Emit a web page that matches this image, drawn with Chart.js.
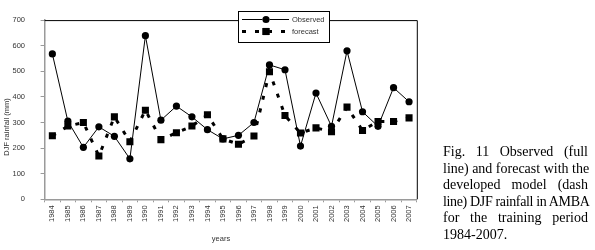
<!DOCTYPE html>
<html>
<head>
<meta charset="utf-8">
<script src="https://cdn.jsdelivr.net/npm/chart.js@4/dist/chart.umd.min.js"></script>
<style>
  html, body { margin: 0; padding: 0; background: #fff; }
  #wrap { position: relative; width: 595px; height: 250px; overflow: hidden; }
  #c { position: absolute; left: 0; top: 0; }
  #caption {
    position: absolute; left: 443px; top: 144px; width: 145px;
    font-family: "Liberation Serif", "Times New Roman", serif;
    font-size: 14px; line-height: 16.5px; color: #000;
  }
  #caption div { text-align: justify; text-align-last: justify; white-space: nowrap; }
  #caption div.last { text-align-last: left; }
</style>
</head>
<body>
<div id="wrap">
  <canvas id="c" width="595" height="250"></canvas>
  <div id="caption">
    <div>Fig. 11 Observed (full</div>
    <div>line) and forecast with the</div>
    <div>developed model (dash</div>
    <div style="letter-spacing:-0.35px">line) DJF rainfall in AMBA</div>
    <div>for the training period</div>
    <div class="last">1984-2007.</div>
  </div>
</div>
<script>
const years = ["1984", "1985", "1986", "1987", "1988", "1989", "1990", "1991", "1992", "1993", "1994", "1995",
  "1996", "1997", "1998", "1999", "2000", "2001", "2002", "2003", "2004", "2005", "2006", "2007"];
const observed = [568, 305, 203, 283, 246, 158, 639, 309, 364, 322, 272, 236,
  250, 300, 525, 506, 208, 415, 285, 580, 342, 285, 436, 381];
const forecast = [248, 286, 300, 169, 322, 225, 348, 233, 260, 286, 330, 236,
  215, 247, 498, 327, 259, 279, 264, 360, 269, 304, 304, 318];
const legendLabels = ["Observed", "forecast"];
const yLabel = "DJF rainfall (mm)";
const xLabel = "years";

const tickFont = { family: "Arial, 'Liberation Sans'", size: 7.5 };
const axisGrey = "#9a9a9a";

// frame, axis titles and the boxed legend inside the plot
const extras = {
  id: "extras",
  afterDraw(chart) {
    const ctx = chart.ctx;
    const a = chart.chartArea;
    ctx.save();
    ctx.strokeStyle = "#000";
    ctx.lineWidth = 1;
    ctx.beginPath();
    ctx.moveTo(a.left, a.top + 0.5);
    ctx.lineTo(a.right + 0.5, a.top + 0.5);
    ctx.lineTo(a.right + 0.5, a.bottom);
    ctx.stroke();

    ctx.fillStyle = "#333";
    ctx.font = "7.5px Arial, 'Liberation Sans'";
    ctx.textAlign = "center";
    ctx.textBaseline = "middle";
    ctx.fillText(xLabel, 221, 239);
    ctx.translate(7, 127);
    ctx.rotate(-Math.PI / 2);
    ctx.fillText(yLabel, 0, 0);
    ctx.restore();

    // legend box
    ctx.save();
    const bx = 238, by = 11, bw = 91, bh = 31;
    ctx.fillStyle = "#fff";
    ctx.fillRect(bx, by, bw, bh);
    ctx.strokeStyle = "#000";
    ctx.lineWidth = 1;
    ctx.strokeRect(bx + 0.5, by + 0.5, bw, bh);

    const ds = chart.data.datasets;
    const rows = [19.5, 31.5];
    ds.forEach((d, i) => {
      const y = rows[i];
      ctx.strokeStyle = "#000";
      ctx.lineWidth = d.borderWidth;
      ctx.setLineDash(d.borderDash || []);
      ctx.beginPath();
      ctx.moveTo(242, y);
      ctx.lineTo(289, y);
      ctx.stroke();
      ctx.setLineDash([]);
      Chart.helpers.drawPoint(ctx, {
        pointStyle: d.pointStyle, radius: d.pointRadius, borderWidth: 0, rotation: 0
      }, 266, y);
      ctx.fillStyle = "#000";
      ctx.fill();
      ctx.fillStyle = "#333";
      ctx.font = "7.5px Arial, 'Liberation Sans'";
      ctx.textAlign = "left";
      ctx.textBaseline = "middle";
      ctx.fillText(legendLabels[i], 292, y);
    });
    ctx.restore();
  }
};

new Chart(document.getElementById("c"), {
  type: "line",
  data: {
    labels: years,
    datasets: [
      {
        label: legendLabels[0],
        data: observed,
        borderColor: "#000",
        backgroundColor: "#000",
        borderWidth: 1,
        pointStyle: "circle",
        pointRadius: 3.6,
        pointBorderWidth: 0,
        pointBackgroundColor: "#000",
        tension: 0,
      },
      {
        label: legendLabels[1],
        data: forecast,
        borderColor: "#000",
        backgroundColor: "#000",
        borderWidth: 3,
        borderDash: [4, 9],
        borderCapStyle: "butt",
        pointStyle: "rect",
        pointRadius: 5,
        pointBorderWidth: 0,
        pointBackgroundColor: "#000",
        tension: 0,
      },
    ],
  },
  options: {
    responsive: false,
    animation: false,
    layout: { padding: { top: 8.3, right: 178.2, left: 0, bottom: 0 } },
    plugins: { legend: { display: false }, tooltip: { enabled: false } },
    scales: {
      x: {
        offset: true,
        afterFit: (s) => { s.height = 50.7; },
        grid: { offset: true, drawOnChartArea: false, tickLength: 3, color: axisGrey, lineWidth: 1 },
        border: { color: axisGrey, width: 1.5 },
        ticks: { autoSkip: false, minRotation: 90, maxRotation: 90, font: tickFont, color: "#333", padding: 3 },
      },
      y: {
        min: 0,
        max: 700,
        afterFit: (s) => { s.width = 44.6; },
        grid: { drawOnChartArea: false, tickLength: 4, color: axisGrey, lineWidth: 1 },
        border: { color: axisGrey, width: 1.5 },
        ticks: { stepSize: 100, font: tickFont, color: "#333", padding: 15.6 },
      },
    },
  },
  plugins: [extras],
});
</script>
</body>
</html>
